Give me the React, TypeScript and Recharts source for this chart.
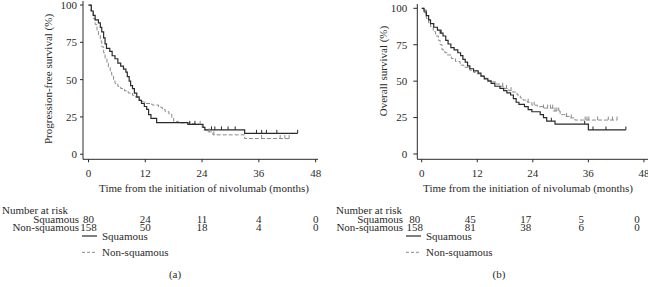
import { LineChart, Line, XAxis, YAxis } from "recharts";

// Kaplan-Meier curves: [months, survival %]
const pfsSquamous = [
  [0, 100], [0.6, 96], [1.0, 93], [1.4, 90], [2.1, 88], [2.5, 85], [2.8, 82], [3.2, 78],
  [3.5, 74], [3.8, 71], [4.5, 69], [5.0, 66], [5.6, 64], [6.2, 61], [6.8, 59], [7.4, 57],
  [7.9, 55], [8.2, 52], [8.6, 49], [8.9, 46], [9.3, 44], [9.7, 41], [10.2, 38.5], [10.7, 36],
  [11.2, 34], [11.8, 32], [12.3, 30], [12.7, 26.5], [13.2, 24], [14.4, 21.2], [21.0, 20],
  [24.2, 18], [24.6, 16.3], [33.0, 14], [44.2, 14],
];
const pfsNonSquamous = [
  [0, 100], [0.5, 96], [1.0, 91], [1.4, 87], [1.8, 83], [2.1, 80], [2.5, 76], [2.8, 72],
  [3.2, 68], [3.5, 64], [3.9, 61], [4.2, 58.5], [4.6, 55.5], [4.9, 53], [5.3, 50], [5.6, 47.5],
  [6.2, 45.5], [6.8, 44], [7.6, 42.5], [8.4, 41], [9.3, 39.5], [10.0, 38], [10.8, 36.5],
  [11.4, 35], [12.0, 34], [13.4, 33], [14.8, 31.5], [15.6, 30], [16.2, 28.5], [17.0, 27],
  [17.6, 24.5], [18.0, 22], [19.0, 21], [21.5, 20.5], [23.2, 20], [24.0, 18], [24.3, 16.3],
  [25.2, 15], [26.3, 13], [33.0, 10.5], [42.4, 10.5],
];
const osSquamous = [
  [0, 100], [0.5, 98], [1.0, 95], [1.5, 92], [1.9, 89.5], [2.6, 87], [3.4, 85], [4.0, 83],
  [4.6, 81], [5.2, 78], [5.7, 75.5], [6.3, 73], [7.0, 71.5], [7.8, 69.5], [8.4, 67.5],
  [8.9, 65], [9.4, 63], [9.9, 60.5], [10.4, 58.5], [11.2, 57], [12.2, 55.5], [12.8, 53.5],
  [13.5, 51.5], [14.3, 50], [15.0, 48.5], [15.8, 46.5], [16.9, 45], [17.7, 43.5], [18.4, 42],
  [19.2, 40.5], [19.8, 38], [20.4, 35.5], [21.0, 34], [22.2, 32.5], [23.0, 30.5], [23.8, 29],
  [25.6, 27], [26.3, 25], [27.0, 22.5], [28.8, 20.5], [36.0, 16.5], [44.1, 16.5],
];
const osNonSquamous = [
  [0, 100], [0.5, 97], [1.0, 93], [1.5, 90], [1.9, 87.5], [2.5, 84], [3.0, 81], [3.6, 78],
  [4.0, 75], [4.4, 71.5], [5.0, 69.5], [5.5, 68], [6.4, 65.5], [7.3, 63.5], [8.3, 61],
  [9.1, 59.5], [10.4, 57.5], [11.2, 56], [12.0, 55], [12.8, 53.5], [13.6, 52], [14.3, 50.5],
  [15.2, 49.5], [16.0, 48], [16.9, 46.5], [17.8, 45], [18.8, 43.5], [19.6, 42.5], [20.6, 40.5],
  [21.3, 38.5], [21.9, 37], [22.8, 35.5], [23.8, 33.5], [25.0, 32.5], [26.3, 31.5],
  [28.4, 29.5], [29.9, 27], [31.0, 25.8], [32.0, 24.8], [33.1, 23.3], [42.2, 23.3],
];

// censoring times (months)
const pfsSquamousCensor = [21.4, 22.5, 26.0, 26.7, 28.1, 29.5, 31.0, 35.5, 36.6, 37.6, 39.8, 44.2];
const pfsNonSquamousCensor = [23.6, 25.5, 26.5, 36.6, 40.5, 41.5, 42.4];
const osSquamousCensor = [1.0, 4.2, 28.0, 35.2, 37.0, 39.8, 44.1];
const osNonSquamousCensor = [
  0.9, 17.5, 18.3, 19.3, 23.0, 24.3, 26.3, 27.2, 27.8, 28.3, 28.8, 29.2, 29.6, 31.3, 32.3,
  35.3, 35.7, 36.1, 38.0, 40.3, 41.2, 42.2,
];

const xTicks = [0, 12, 24, 36, 48];
const yTicks = [0, 25, 50, 75, 100];
const riskTimes = [0, 12, 24, 36, 48];
const pfsRiskSquamous = [80, 24, 11, 4, 0];
const pfsRiskNonSquamous = [158, 50, 18, 4, 0];
const osRiskSquamous = [80, 45, 17, 5, 0];
const osRiskNonSquamous = [158, 81, 38, 6, 0];

const FONT = '"Liberation Serif", "DejaVu Serif", serif';
const INK = "#2a2a2a";
const DASH_COLOR = "#8a8a8a";
const FS = 11;

function toRows(pts: number[][]) {
  return pts.map(([t, s]) => ({ t, s }));
}

function censorRows(curve: number[][], times: number[]) {
  return times.map((t) => {
    let s = curve[0][1];
    for (const [ct, cs] of curve) if (ct <= t) s = cs;
    return { t, s };
  });
}

const CensorMark = (color: string) => (props: any) => {
  const { cx, cy, index } = props;
  if (cx == null || cy == null) return <g key={index} />;
  return <line key={index} x1={cx} x2={cx} y1={cy - 3.5} y2={cy} stroke={color} strokeWidth={1} />;
};

type PanelProps = {
  x0: number;
  plotLeft: number;
  plotRight: number;
  plotTop: number;
  plotBottom: number;
  xDomain: [number, number];
  yDomain: [number, number];
  squamous: number[][];
  nonSquamous: number[][];
  squamousCensor: number[];
  nonSquamousCensor: number[];
  tickSize: number;
  tickMargin: number;
};

function KMPanel(p: PanelProps) {
  const H = 200;
  const YW = 40;
  const XH = 30;
  return (
    <div style={{ position: "absolute", left: p.x0, top: 0 }}>
      <LineChart
        width={324}
        height={H}
        margin={{
          top: p.plotTop,
          left: p.plotLeft - p.x0 - YW,
          right: p.x0 + 324 - p.plotRight,
          bottom: H - p.plotBottom - XH,
        }}
      >
        <XAxis
          dataKey="t"
          type="number"
          domain={p.xDomain}
          allowDataOverflow
          ticks={xTicks}
          interval={0}
          height={XH}
          tickSize={3}
          tickMargin={7}
          stroke={INK}
          tick={{ fontSize: FS, fill: INK, fontFamily: FONT }}
        />
        <YAxis
          type="number"
          domain={p.yDomain}
          allowDataOverflow
          ticks={yTicks}
          interval={0}
          width={YW}
          tickSize={p.tickSize}
          tickMargin={p.tickMargin}
          stroke={INK}
          tick={{ fontSize: FS, fill: INK, fontFamily: FONT }}
        />
        <Line
          data={toRows(p.nonSquamous)}
          dataKey="s"
          type="stepAfter"
          stroke={DASH_COLOR}
          strokeWidth={1}
          strokeDasharray="4 2"
          dot={false}
          isAnimationActive={false}
        />
        <Line
          data={toRows(p.squamous)}
          dataKey="s"
          type="stepAfter"
          stroke={INK}
          strokeWidth={1.2}
          dot={false}
          isAnimationActive={false}
        />
        <Line
          data={censorRows(p.nonSquamous, p.nonSquamousCensor)}
          dataKey="s"
          stroke="none"
          dot={CensorMark(DASH_COLOR)}
          isAnimationActive={false}
        />
        <Line
          data={censorRows(p.squamous, p.squamousCensor)}
          dataKey="s"
          stroke="none"
          dot={CensorMark(INK)}
          isAnimationActive={false}
        />
      </LineChart>
    </div>
  );
}

type TextProps = {
  x0: number;
  yLabel: string;
  yLabelX: number;
  yLabelY: number;
  xLabelX: number;
  riskCols: number[];
  riskSquamous: number[];
  riskNonSquamous: number[];
  tableLeft: number;
  rowEnd: number;
  legendX: number;
  caption: string;
  captionX: number;
};

function PanelText(p: TextProps) {
  const t = { fontSize: FS, fill: INK, fontFamily: FONT };
  return (
    <g>
      <text
        {...t}
        x={p.yLabelX}
        y={p.yLabelY}
        textAnchor="middle"
        dominantBaseline="central"
        transform={`rotate(-90 ${p.yLabelX} ${p.yLabelY})`}
      >
        {p.yLabel}
      </text>
      <text {...t} x={p.xLabelX} y={188} textAnchor="middle" dominantBaseline="central">
        Time from the initiation of nivolumab (months)
      </text>
      <text {...t} x={p.tableLeft} y={210} dominantBaseline="central">
        Number at risk
      </text>
      <text {...t} x={p.rowEnd} y={219.3} textAnchor="end" dominantBaseline="central">
        Squamous
      </text>
      <text {...t} x={p.rowEnd} y={227.3} textAnchor="end" dominantBaseline="central">
        Non-squamous
      </text>
      {p.riskCols.map((cx, i) => (
        <g key={i}>
          <text {...t} x={cx} y={219.3} textAnchor="middle" dominantBaseline="central">
            {p.riskSquamous[i]}
          </text>
          <text {...t} x={cx} y={227.3} textAnchor="middle" dominantBaseline="central">
            {p.riskNonSquamous[i]}
          </text>
        </g>
      ))}
      <line x1={p.legendX} x2={p.legendX + 15} y1={236} y2={236} stroke={INK} strokeWidth={1.2} />
      <text {...t} x={p.legendX + 20} y={235.5} dominantBaseline="central">
        Squamous
      </text>
      <line
        x1={p.legendX}
        x2={p.legendX + 15}
        y1={252.3}
        y2={252.3}
        stroke={DASH_COLOR}
        strokeWidth={1}
        strokeDasharray="3 2"
      />
      <text {...t} x={p.legendX + 20} y={252} dominantBaseline="central">
        Non-squamous
      </text>
      <text {...t} x={p.captionX} y={273.5} textAnchor="middle" dominantBaseline="central">
        {p.caption}
      </text>
    </g>
  );
}

function colPositions(left: number, right: number, domain: [number, number], shift: number) {
  return riskTimes.map(
    (t) => left + ((t - domain[0]) / (domain[1] - domain[0])) * (right - left) + shift
  );
}

export default function App() {
  const leftDomain: [number, number] = [-1.16, 48.5];
  const rightDomain: [number, number] = [-0.95, 48.88];
  return (
    <div
      style={{
        position: "absolute",
        left: 0,
        top: 0,
        width: 648,
        height: 287,
        background: "#fff",
        overflow: "hidden",
        fontFamily: FONT,
      }}
    >
      <KMPanel
        x0={0}
        plotLeft={83}
        plotRight={318}
        plotTop={1}
        plotBottom={159.3}
        xDomain={leftDomain}
        yDomain={[-3.4, 102.7]}
        squamous={pfsSquamous}
        nonSquamous={pfsNonSquamous}
        squamousCensor={pfsSquamousCensor}
        nonSquamousCensor={pfsNonSquamousCensor}
        tickSize={3}
        tickMargin={3}
      />
      <KMPanel
        x0={324}
        plotLeft={417.3}
        plotRight={648}
        plotTop={4}
        plotBottom={159.3}
        xDomain={rightDomain}
        yDomain={[-3.64, 102.95]}
        squamous={osSquamous}
        nonSquamous={osNonSquamous}
        squamousCensor={osSquamousCensor}
        nonSquamousCensor={osNonSquamousCensor}
        tickSize={4}
        tickMargin={6}
      />
      <svg
        width={648}
        height={287}
        style={{ position: "absolute", left: 0, top: 0, pointerEvents: "none" }}
      >
        <PanelText
          x0={0}
          yLabel="Progression-free survival (%)"
          yLabelX={48}
          yLabelY={79}
          xLabelX={204}
          riskCols={colPositions(83, 318, leftDomain, 0)}
          riskSquamous={pfsRiskSquamous}
          riskNonSquamous={pfsRiskNonSquamous}
          tableLeft={2}
          rowEnd={79}
          legendX={82}
          caption="(a)"
          captionX={175}
        />
        <PanelText
          x0={324}
          yLabel="Overall survival (%)"
          yLabelX={383}
          yLabelY={71}
          xLabelX={528}
          riskCols={colPositions(417.3, 648, rightDomain, -7)}
          riskSquamous={osRiskSquamous}
          riskNonSquamous={osRiskNonSquamous}
          tableLeft={336}
          rowEnd={403}
          legendX={406}
          caption="(b)"
          captionX={499}
        />
      </svg>
    </div>
  );
}
